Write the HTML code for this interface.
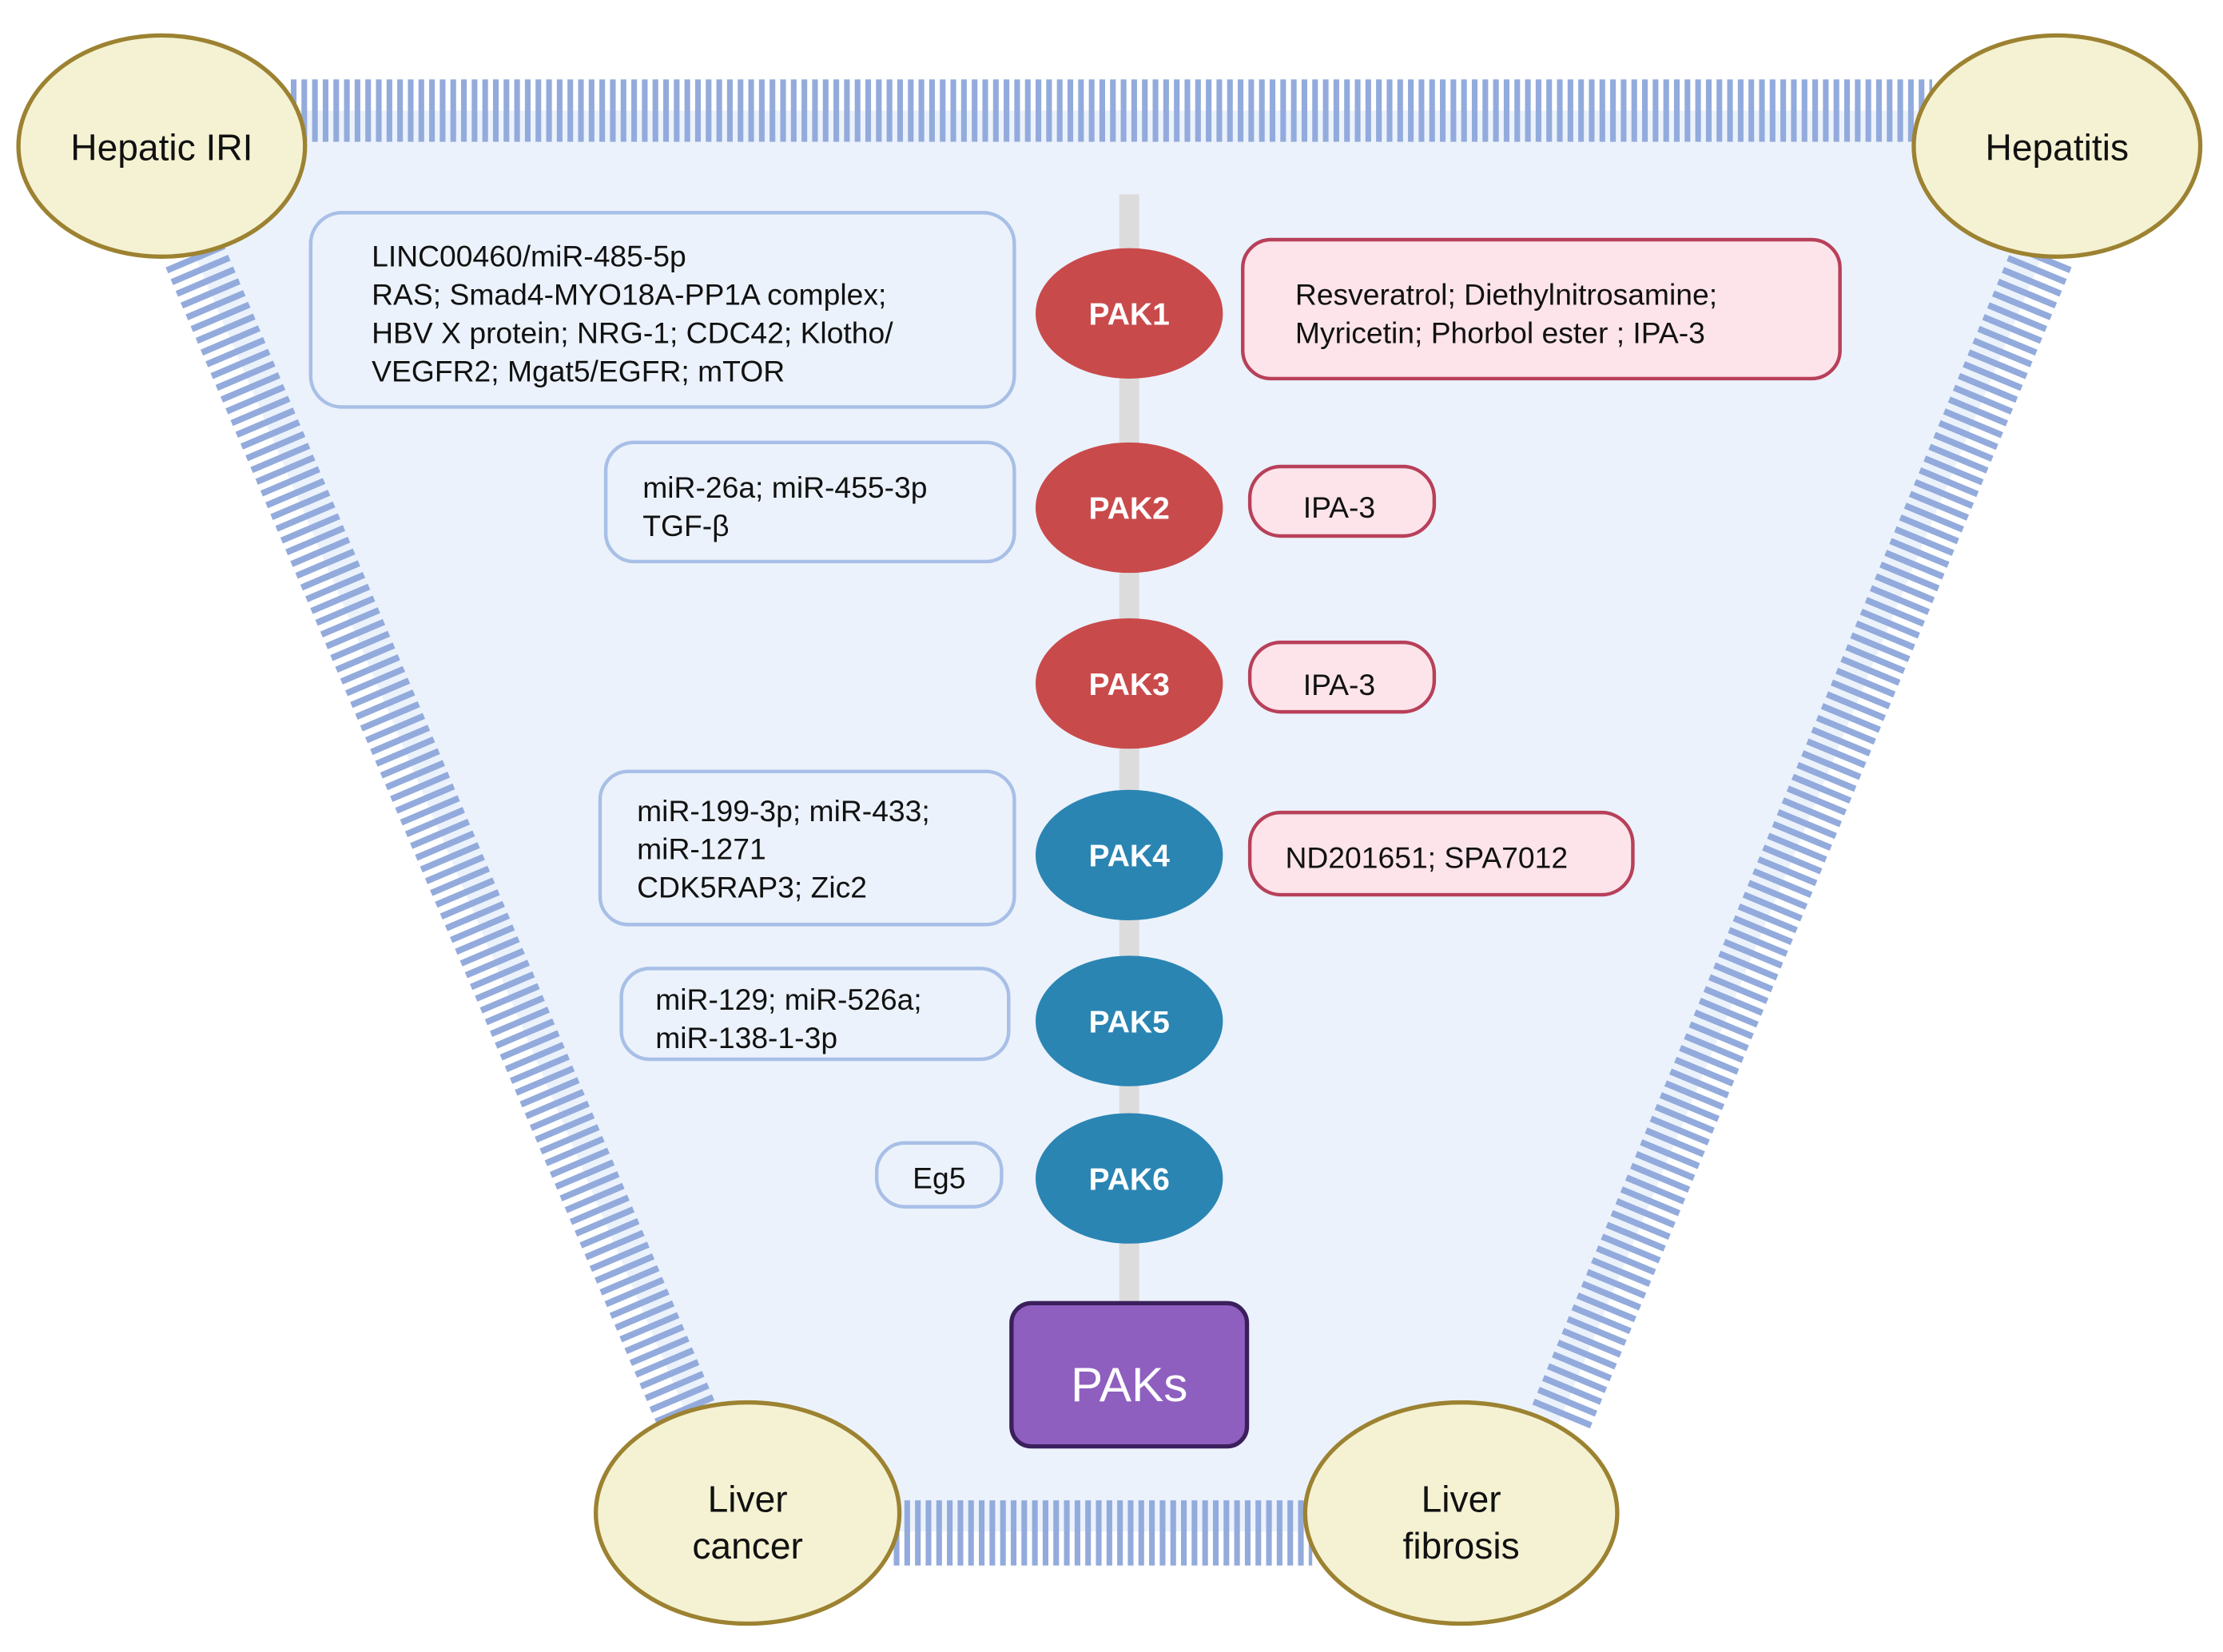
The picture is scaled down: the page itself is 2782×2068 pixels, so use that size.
<!DOCTYPE html>
<html><head><meta charset="utf-8"><style>
html,body{margin:0;padding:0;background:#fff;}
svg{display:block;}
text{font-family:"Liberation Sans",sans-serif;}
</style></head><body>
<svg width="2782" height="2068" viewBox="0 0 1567 1165" preserveAspectRatio="none" xmlns="http://www.w3.org/2000/svg">
<rect width="1567" height="1165" fill="#fff"/>
<polygon points="94,78 1482,78 1067,1080 519,1080" fill="#ebf2fb"/>
<g stroke="#93abdc" fill="none">
<line x1="205" y1="78" x2="1362" y2="78" stroke-width="44" stroke-dasharray="4 3.5"/>
<line x1="137" y1="180" x2="485" y2="1000" stroke-width="44" stroke-dasharray="4.5 4.5"/>
<line x1="1440" y1="180" x2="1100" y2="1000" stroke-width="44" stroke-dasharray="4.5 4.5"/>
<line x1="630" y1="1081" x2="925" y2="1081" stroke-width="46" stroke-dasharray="4 3.5"/>
</g>
<line x1="796" y1="137" x2="796" y2="925" stroke="#dcdcdc" stroke-width="14"/>
<g fill="#f5f2d3" stroke="#9c8231" stroke-width="3">
<ellipse cx="114" cy="103" rx="101" ry="78"/>
<ellipse cx="1450" cy="103" rx="101" ry="78"/>
<ellipse cx="527" cy="1067" rx="107" ry="78"/>
<ellipse cx="1030" cy="1067" rx="110" ry="78"/>
</g>
<g font-size="26" fill="#111" text-anchor="middle">
<text x="114" y="113">Hepatic IRI</text>
<text x="1450" y="113">Hepatitis</text>
<text x="527" y="1066">Liver</text>
<text x="527" y="1099">cancer</text>
<text x="1030" y="1066">Liver</text>
<text x="1030" y="1099">fibrosis</text>
</g>
<g fill="#ebf2fb" stroke="#a8bfe7" stroke-width="2.5">
<rect x="219" y="150" width="496" height="137" rx="22"/>
<rect x="427" y="312" width="288" height="84" rx="20"/>
<rect x="423" y="544" width="292" height="108" rx="20"/>
<rect x="438" y="683" width="273" height="64" rx="20"/>
<rect x="618" y="806" width="88" height="45" rx="20"/>
</g>
<g fill="#fce4ea" stroke="#b8405a" stroke-width="2.5">
<rect x="876" y="169" width="421" height="98" rx="20"/>
<rect x="881" y="329" width="130" height="49" rx="22"/>
<rect x="881" y="453" width="130" height="49" rx="22"/>
<rect x="881" y="573" width="270" height="58" rx="22"/>
</g>
<g font-size="21" fill="#111">
<text x="262" y="188">LINC00460/miR-485-5p</text>
<text x="262" y="215">RAS; Smad4-MYO18A-PP1A complex;</text>
<text x="262" y="242">HBV X protein; NRG-1; CDC42; Klotho/</text>
<text x="262" y="269">VEGFR2; Mgat5/EGFR; mTOR</text>
<text x="453" y="351">miR-26a; miR-455-3p</text>
<text x="453" y="378">TGF-β</text>
<text x="449" y="579">miR-199-3p; miR-433;</text>
<text x="449" y="606">miR-1271</text>
<text x="449" y="633">CDK5RAP3; Zic2</text>
<text x="462" y="712">miR-129; miR-526a;</text>
<text x="462" y="739">miR-138-1-3p</text>
<text x="662" y="838" text-anchor="middle">Eg5</text>
<text x="913" y="215">Resveratrol; Diethylnitrosamine;</text>
<text x="913" y="242">Myricetin; Phorbol ester ; IPA-3</text>
<text x="944" y="365" text-anchor="middle">IPA-3</text>
<text x="944" y="490" text-anchor="middle">IPA-3</text>
<text x="906" y="612">ND201651; SPA7012</text>
</g>
<g fill="#c94a4b">
<ellipse cx="796" cy="221" rx="66" ry="46"/>
<ellipse cx="796" cy="358" rx="66" ry="46"/>
<ellipse cx="796" cy="482" rx="66" ry="46"/>
</g>
<g fill="#2a85b3">
<ellipse cx="796" cy="603" rx="66" ry="46"/>
<ellipse cx="796" cy="720" rx="66" ry="46"/>
<ellipse cx="796" cy="831" rx="66" ry="46"/>
</g>
<g font-size="22" font-weight="bold" fill="#fff" text-anchor="middle">
<text x="796" y="229">PAK1</text>
<text x="796" y="366">PAK2</text>
<text x="796" y="490">PAK3</text>
<text x="796" y="611">PAK4</text>
<text x="796" y="728">PAK5</text>
<text x="796" y="839">PAK6</text>
</g>
<rect x="713" y="919" width="166" height="101" rx="14" fill="#8e5fbf" stroke="#3b1f5c" stroke-width="3"/>
<text x="796" y="988" font-size="34" fill="#fff" text-anchor="middle">PAKs</text>
</svg>
</body></html>
